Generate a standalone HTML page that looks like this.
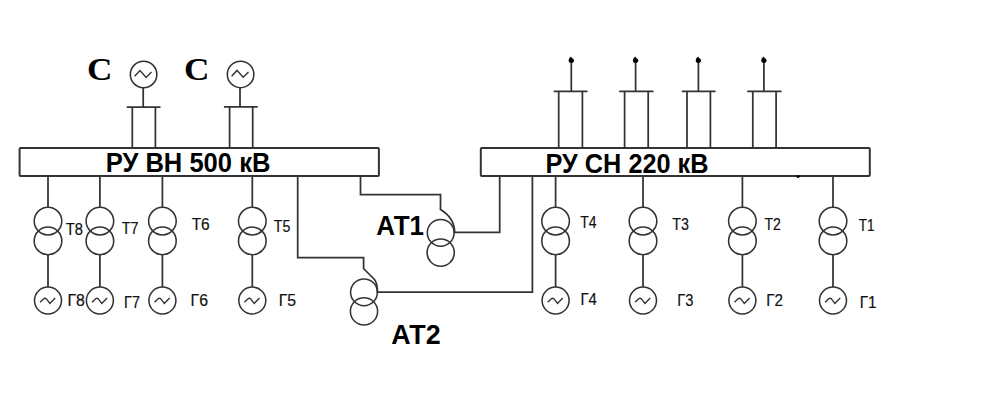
<!DOCTYPE html>
<html><head><meta charset="utf-8"><style>
html,body{margin:0;padding:0;background:#fff;}
svg{display:block;}
</style></head><body>
<svg width="985" height="417" viewBox="0 0 985 417">
<rect x="0" y="0" width="985" height="417" fill="#fff"/>
<g fill="none" stroke="#333" stroke-linecap="butt">
<circle cx="143.6" cy="74.5" r="13.25" stroke-width="1.55"/>
<path d="M134.6,76.3 L140.0,70.5 L146.1,77.4 L151.5,72.0" stroke-width="1.4"/>
<line x1="143.2" y1="87.75" x2="143.2" y2="107.0" stroke-width="1.75"/>
<line x1="126.7" y1="107.0" x2="160.5" y2="107.0" stroke-width="1.75"/>
<line x1="132.3" y1="107.0" x2="132.3" y2="148" stroke-width="1.75"/>
<line x1="155.4" y1="107.0" x2="155.4" y2="148" stroke-width="1.75"/>
<circle cx="240.6" cy="74.4" r="13.25" stroke-width="1.55"/>
<path d="M231.6,76.2 L237.0,70.4 L243.1,77.3 L248.5,71.9" stroke-width="1.4"/>
<line x1="240.0" y1="87.65" x2="240.0" y2="106.8" stroke-width="1.75"/>
<line x1="223.9" y1="106.8" x2="257.7" y2="106.8" stroke-width="1.75"/>
<line x1="229.6" y1="106.8" x2="229.6" y2="148" stroke-width="1.75"/>
<line x1="252.7" y1="106.8" x2="252.7" y2="148" stroke-width="1.75"/>
<rect x="19.6" y="148.1" width="359.3" height="28" rx="1" stroke-width="2"/>
<rect x="480.8" y="148.1" width="389" height="28" rx="1" stroke-width="2"/>
<ellipse cx="798.1" cy="176.6" rx="1.7" ry="1.3" fill="#000" stroke="none"/>
<line x1="571.3" y1="60" x2="571.3" y2="91.4" stroke-width="1.75"/>
<line x1="553.7" y1="91.4" x2="587.5" y2="91.4" stroke-width="1.75"/>
<line x1="558.7" y1="91.4" x2="558.7" y2="148" stroke-width="1.75"/>
<line x1="582.4" y1="91.4" x2="582.4" y2="148" stroke-width="1.75"/>
<path d="M568.6,60.3 Q568.6,57.8 571.1,56.4 L571.9,57.9 Q574.0,58.6 574.0,60.5 Q574.0,62.9 571.3,62.9 Q568.6,62.9 568.6,60.3 Z" fill="#000" stroke="none"/>
<line x1="635.6" y1="60" x2="635.6" y2="91.4" stroke-width="1.75"/>
<line x1="619.2" y1="91.4" x2="653.5" y2="91.4" stroke-width="1.75"/>
<line x1="624.6" y1="91.4" x2="624.6" y2="148" stroke-width="1.75"/>
<line x1="648.2" y1="91.4" x2="648.2" y2="148" stroke-width="1.75"/>
<path d="M632.9,60.3 Q632.9,57.8 635.4,56.4 L636.2,57.9 Q638.3,58.6 638.3,60.5 Q638.3,62.9 635.6,62.9 Q632.9,62.9 632.9,60.3 Z" fill="#000" stroke="none"/>
<line x1="698.4" y1="60" x2="698.4" y2="91.4" stroke-width="1.75"/>
<line x1="681.8" y1="91.4" x2="715.6" y2="91.4" stroke-width="1.75"/>
<line x1="687" y1="91.4" x2="687" y2="148" stroke-width="1.75"/>
<line x1="710.4" y1="91.4" x2="710.4" y2="148" stroke-width="1.75"/>
<path d="M695.7,60.3 Q695.7,57.8 698.2,56.4 L699.0,57.9 Q701.1,58.6 701.1,60.5 Q701.1,62.9 698.4,62.9 Q695.7,62.9 695.7,60.3 Z" fill="#000" stroke="none"/>
<line x1="763.9" y1="60" x2="763.9" y2="91.4" stroke-width="1.75"/>
<line x1="747.2" y1="91.4" x2="781.6" y2="91.4" stroke-width="1.75"/>
<line x1="752.8" y1="91.4" x2="752.8" y2="148" stroke-width="1.75"/>
<line x1="776.1" y1="91.4" x2="776.1" y2="148" stroke-width="1.75"/>
<path d="M761.2,60.3 Q761.2,57.8 763.7,56.4 L764.5,57.9 Q766.6,58.6 766.6,60.5 Q766.6,62.9 763.9,62.9 Q761.2,62.9 761.2,60.3 Z" fill="#000" stroke="none"/>
<line x1="48.0" y1="176" x2="48.0" y2="207.3" stroke-width="1.75"/>
<circle cx="48.0" cy="221.1" r="13.8" stroke-width="1.55"/>
<circle cx="48.0" cy="240.9" r="13.8" stroke-width="1.55"/>
<line x1="48.0" y1="254.5" x2="48.0" y2="287" stroke-width="1.75"/>
<circle cx="48.0" cy="300.5" r="13.5" stroke-width="1.55"/>
<path d="M40.1,302.3 L43.7,298.7 Q45.0,297.7 46.4,298.9 L49.9,303.4 L55.2,298.0" stroke-width="1.4"/>
<line x1="99.9" y1="176" x2="99.9" y2="207.3" stroke-width="1.75"/>
<circle cx="99.9" cy="221.1" r="13.8" stroke-width="1.55"/>
<circle cx="99.9" cy="240.9" r="13.8" stroke-width="1.55"/>
<line x1="99.9" y1="254.5" x2="99.9" y2="287" stroke-width="1.75"/>
<circle cx="99.9" cy="300.5" r="13.5" stroke-width="1.55"/>
<path d="M92.0,302.3 L95.6,298.7 Q96.9,297.7 98.3,298.9 L101.8,303.4 L107.1,298.0" stroke-width="1.4"/>
<line x1="162.4" y1="176" x2="162.4" y2="207.3" stroke-width="1.75"/>
<circle cx="162.4" cy="221.1" r="13.8" stroke-width="1.55"/>
<circle cx="162.4" cy="240.9" r="13.8" stroke-width="1.55"/>
<line x1="162.4" y1="254.5" x2="162.4" y2="287" stroke-width="1.75"/>
<circle cx="162.4" cy="300.5" r="13.5" stroke-width="1.55"/>
<path d="M154.5,302.3 L158.1,298.7 Q159.4,297.7 160.8,298.9 L164.3,303.4 L169.6,298.0" stroke-width="1.4"/>
<line x1="252.3" y1="176" x2="252.3" y2="207.3" stroke-width="1.75"/>
<circle cx="252.3" cy="221.1" r="13.8" stroke-width="1.55"/>
<circle cx="252.3" cy="240.9" r="13.8" stroke-width="1.55"/>
<line x1="252.3" y1="254.5" x2="252.3" y2="287" stroke-width="1.75"/>
<circle cx="252.3" cy="300.5" r="13.5" stroke-width="1.55"/>
<path d="M244.4,302.3 L248.0,298.7 Q249.3,297.7 250.7,298.9 L254.2,303.4 L259.5,298.0" stroke-width="1.4"/>
<line x1="555.6" y1="176" x2="555.6" y2="207.3" stroke-width="1.75"/>
<circle cx="555.6" cy="221.1" r="13.8" stroke-width="1.55"/>
<circle cx="555.6" cy="240.9" r="13.8" stroke-width="1.55"/>
<line x1="555.6" y1="254.5" x2="555.6" y2="287" stroke-width="1.75"/>
<circle cx="555.6" cy="300.5" r="13.5" stroke-width="1.55"/>
<path d="M547.7,302.3 L551.3,298.7 Q552.6,297.7 554.0,298.9 L557.5,303.4 L562.8,298.0" stroke-width="1.4"/>
<line x1="643" y1="176" x2="643" y2="207.3" stroke-width="1.75"/>
<circle cx="643" cy="221.1" r="13.8" stroke-width="1.55"/>
<circle cx="643" cy="240.9" r="13.8" stroke-width="1.55"/>
<line x1="643" y1="254.5" x2="643" y2="287" stroke-width="1.75"/>
<circle cx="643" cy="300.5" r="13.5" stroke-width="1.55"/>
<path d="M635.1,302.3 L638.7,298.7 Q640.0,297.7 641.4,298.9 L644.9,303.4 L650.2,298.0" stroke-width="1.4"/>
<line x1="742.4" y1="176" x2="742.4" y2="207.3" stroke-width="1.75"/>
<circle cx="742.4" cy="221.1" r="13.8" stroke-width="1.55"/>
<circle cx="742.4" cy="240.9" r="13.8" stroke-width="1.55"/>
<line x1="742.4" y1="254.5" x2="742.4" y2="287" stroke-width="1.75"/>
<circle cx="742.4" cy="300.5" r="13.5" stroke-width="1.55"/>
<path d="M734.5,302.3 L738.1,298.7 Q739.4,297.7 740.8,298.9 L744.3,303.4 L749.6,298.0" stroke-width="1.4"/>
<line x1="833" y1="176" x2="833" y2="207.3" stroke-width="1.75"/>
<circle cx="833" cy="221.1" r="13.8" stroke-width="1.55"/>
<circle cx="833" cy="240.9" r="13.8" stroke-width="1.55"/>
<line x1="833" y1="254.5" x2="833" y2="287" stroke-width="1.75"/>
<circle cx="833" cy="300.5" r="13.5" stroke-width="1.55"/>
<path d="M825.1,302.3 L828.7,298.7 Q830.0,297.7 831.4,298.9 L834.9,303.4 L840.2,298.0" stroke-width="1.4"/>
<path d="M360.5,176 V194.5 H440.5 V209.6 C447,213.5 454.5,219.5 454.6,232.4 H499.7 V176" stroke-width="1.75"/>
<circle cx="440.7" cy="232.8" r="13.4" stroke-width="1.55"/>
<circle cx="440.7" cy="252.6" r="13.6" stroke-width="1.55"/>
<path d="M297.7,176 V257.6 H363.6 V268.6 L366,271 L374.5,279.5 Q377.4,283 377.4,292 H532.4 V176" stroke-width="1.75"/>
<circle cx="364" cy="292.3" r="13.4" stroke-width="1.55"/>
<circle cx="364" cy="311.4" r="13.6" stroke-width="1.55"/>
</g>
<text transform="translate(87.00,80.00) scale(1.1466,1)" font-family="Liberation Serif" font-size="30.70" font-weight="bold" fill="#000">С</text>
<text transform="translate(184.00,80.00) scale(1.1466,1)" font-family="Liberation Serif" font-size="30.70" font-weight="bold" fill="#000">С</text>
<text transform="translate(105.70,171.80) scale(0.9363,1)" font-family="Liberation Sans" font-size="27.30" font-weight="bold" fill="#000">РУ ВН 500 кВ</text>
<text transform="translate(545.60,172.50) scale(0.9264,1)" font-family="Liberation Sans" font-size="27.30" font-weight="bold" fill="#000">РУ СН 220 кВ</text>
<text transform="translate(376.20,234.70) scale(0.9510,1)" font-family="Liberation Sans" font-size="27.30" font-weight="bold" fill="#000">АТ1</text>
<text transform="translate(391.20,344.10) scale(0.9839,1)" font-family="Liberation Sans" font-size="27.30" font-weight="bold" fill="#000">АТ2</text>
<text transform="translate(65.80,235.00) scale(0.9436,1)" font-family="Liberation Sans" font-size="15.60" font-weight="normal" fill="#111" stroke="#111" stroke-width="0.2">Т8</text>
<text transform="translate(121.80,233.50) scale(0.9223,1)" font-family="Liberation Sans" font-size="15.60" font-weight="normal" fill="#111" stroke="#111" stroke-width="0.2">Т7</text>
<text transform="translate(191.70,229.70) scale(0.9895,1)" font-family="Liberation Sans" font-size="15.60" font-weight="normal" fill="#111" stroke="#111" stroke-width="0.2">Т6</text>
<text transform="translate(273.80,231.90) scale(0.9083,1)" font-family="Liberation Sans" font-size="15.60" font-weight="normal" fill="#111" stroke="#111" stroke-width="0.2">Т5</text>
<text transform="translate(580.30,228.20) scale(0.8987,1)" font-family="Liberation Sans" font-size="15.60" font-weight="normal" fill="#111" stroke="#111" stroke-width="0.2">Т4</text>
<text transform="translate(672.30,229.70) scale(0.9115,1)" font-family="Liberation Sans" font-size="15.60" font-weight="normal" fill="#111" stroke="#111" stroke-width="0.2">Т3</text>
<text transform="translate(764.50,229.70) scale(0.9021,1)" font-family="Liberation Sans" font-size="15.60" font-weight="normal" fill="#111" stroke="#111" stroke-width="0.2">Т2</text>
<text transform="translate(858.70,231.00) scale(0.8689,1)" font-family="Liberation Sans" font-size="15.60" font-weight="normal" fill="#111" stroke="#111" stroke-width="0.2">Т1</text>
<text transform="translate(67.50,305.50) scale(1.0161,1)" font-family="Liberation Sans" font-size="15.60" font-weight="normal" fill="#111" stroke="#111" stroke-width="0.2">Г8</text>
<text transform="translate(124.10,308.40) scale(0.9232,1)" font-family="Liberation Sans" font-size="15.60" font-weight="normal" fill="#111" stroke="#111" stroke-width="0.2">Г7</text>
<text transform="translate(190.60,305.50) scale(1.0121,1)" font-family="Liberation Sans" font-size="15.60" font-weight="normal" fill="#111" stroke="#111" stroke-width="0.2">Г6</text>
<text transform="translate(278.70,306.10) scale(1.0068,1)" font-family="Liberation Sans" font-size="15.60" font-weight="normal" fill="#111" stroke="#111" stroke-width="0.2">Г5</text>
<text transform="translate(580.50,304.70) scale(0.9596,1)" font-family="Liberation Sans" font-size="15.60" font-weight="normal" fill="#111" stroke="#111" stroke-width="0.2">Г4</text>
<text transform="translate(677.20,305.50) scale(0.9417,1)" font-family="Liberation Sans" font-size="15.60" font-weight="normal" fill="#111" stroke="#111" stroke-width="0.2">Г3</text>
<text transform="translate(766.30,306.10) scale(0.9728,1)" font-family="Liberation Sans" font-size="15.60" font-weight="normal" fill="#111" stroke="#111" stroke-width="0.2">Г2</text>
<text transform="translate(859.80,307.70) scale(0.9847,1)" font-family="Liberation Sans" font-size="15.60" font-weight="normal" fill="#111" stroke="#111" stroke-width="0.2">Г1</text>
</svg>
</body></html>
